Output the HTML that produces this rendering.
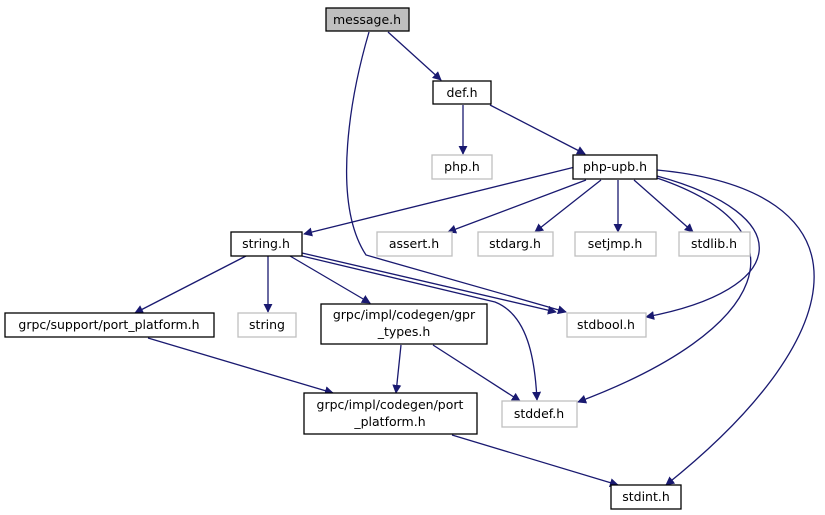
<!DOCTYPE html>
<html><head><meta charset="utf-8"><style>
html,body{margin:0;padding:0;background:#fff;}
svg{display:block;}
text{font-family:"DejaVu Sans","Liberation Sans",sans-serif;font-size:12.5px;fill:#000;text-anchor:middle;}
.e{fill:none;stroke:#191970;stroke-width:1.3;}
.b{fill:#fff;stroke:#000;stroke-width:1.3;}
.g{fill:#fff;stroke:#bfbfbf;stroke-width:1.3;}
</style></head><body>
<svg width="825" height="515" viewBox="0 0 825 515" xmlns="http://www.w3.org/2000/svg">
<defs><marker id="a" viewBox="0 0 10 10" refX="9" refY="5" markerWidth="9" markerHeight="9" orient="auto" markerUnits="userSpaceOnUse"><path d="M0,0 L10,5 L0,10 z" fill="#191970"/></marker></defs>
<g marker-end="url(#a)">
<path class="e" d="M388,32 L441,80"/>
<path class="e" d="M369,32 C352,90 330,200 366,255 L566,312"/>
<path class="e" d="M463,105 L463,154"/>
<path class="e" d="M490,105 L585,154"/>
<path class="e" d="M575,167 L304,234"/>
<path class="e" d="M586,180 L448,232"/>
<path class="e" d="M601,180 L535,232"/>
<path class="e" d="M618,180 L618,232"/>
<path class="e" d="M634,180 L693,232"/>
<path class="e" d="M657,176 C800,215 790,290 646,317"/>
<path class="e" d="M657,178 C810,230 770,330 578,402"/>
<path class="e" d="M657,170 C870,190 860,330 666,485"/>
<path class="e" d="M246,256 L135,313"/>
<path class="e" d="M268,256 L268,312"/>
<path class="e" d="M290,256 L370,303"/>
<path class="e" d="M302,253 L556,312"/>
<path class="e" d="M302,256 L495,302 C528,315 535,360 537,400"/>
<path class="e" d="M148,338 L333,393"/>
<path class="e" d="M401,345 L396,393"/>
<path class="e" d="M433,345 L520,401"/>
<path class="e" d="M452,435 L618,485"/>
</g>
<rect x="326" y="8" width="83" height="23" fill="#bfbfbf" stroke="#000" stroke-width="1.3"/><text x="367" y="24">message.h</text>
<rect class="b" x="433" y="81" width="58" height="23"/><text x="462" y="97">def.h</text>
<rect class="g" x="432" y="155" width="60" height="24"/><text x="462" y="171">php.h</text>
<rect class="b" x="573" y="155" width="84" height="24"/><text x="615" y="171">php-upb.h</text>
<rect class="b" x="231" y="232" width="71" height="24"/><text x="266" y="248">string.h</text>
<rect class="g" x="377" y="232" width="75" height="24"/><text x="414" y="248">assert.h</text>
<rect class="g" x="478" y="232" width="75" height="24"/><text x="515" y="248">stdarg.h</text>
<rect class="g" x="575" y="232" width="81" height="24"/><text x="615" y="248">setjmp.h</text>
<rect class="g" x="679" y="232" width="71" height="24"/><text x="714" y="248">stdlib.h</text>
<rect class="b" x="5" y="313" width="209" height="24"/><text x="109" y="329">grpc/support/port_platform.h</text>
<rect class="g" x="238" y="313" width="58" height="24"/><text x="267" y="329">string</text>
<rect class="b" x="321" y="304" width="166" height="40"/><text x="404" y="319">grpc/impl/codegen/gpr</text><text x="404" y="336">_types.h</text>
<rect class="g" x="567" y="313" width="79" height="24"/><text x="606" y="329">stdbool.h</text>
<rect class="b" x="304" y="393" width="173" height="41"/><text x="390" y="409">grpc/impl/codegen/port</text><text x="390" y="426">_platform.h</text>
<rect class="g" x="502" y="401" width="75" height="26"/><text x="539" y="418">stddef.h</text>
<rect class="b" x="611" y="485" width="70" height="24"/><text x="646" y="501">stdint.h</text>
</svg>
</body></html>
